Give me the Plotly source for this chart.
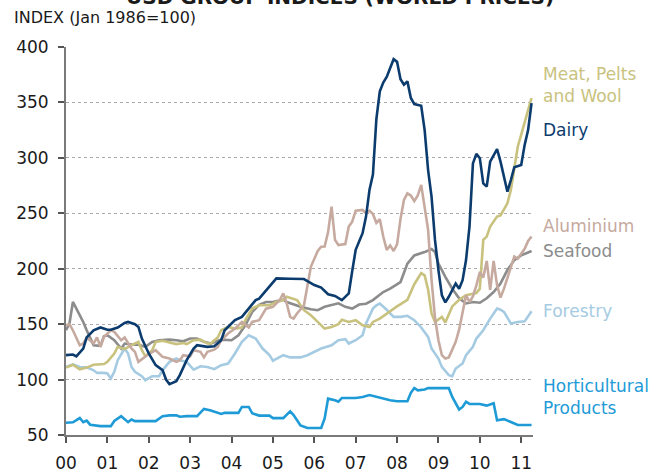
import plotly.graph_objects as go

# ---- data (months since Jan 2000, index values, Jan 1986 = 100) ----
year_ticks = list(range(2000, 2012))
year_labels = ["00", "01", "02", "03", "04", "05", "06", "07", "08", "09", "10", "11"]

hort_m = [0,2,4,5,6,7,10,13,14,16,18,19,20,26,28,30,32,33,35,38,40,42,45,46,50,51,53,54,56,59,60,63,65,66,68,70,74,75,76,78,79,80,84,86,88,90,92,94,96,99,100,101,102,104,105,111,112,114,115,116,117,120,122,124,125,127,129,131,135]
hort_v = [61,61.5,65.3,61.5,63,59.3,58,58,62.6,67,61.6,64,62.5,62.5,67,67.7,67.7,66.5,67,67,73.5,72,69,70,70,75.3,75.3,69.6,67.5,67.5,65.2,65.2,71.4,68,58.7,56.3,56.3,65,82.8,81.4,80,83.4,83.4,84.3,86,84.3,82.8,81.4,80.5,80.5,88,92.4,90.3,91,92.3,92.3,84.3,73,75.3,80,78,78,76.5,78.6,63.3,64.3,61.7,59,59]

dairy_m = [0,2,3,5,6,8,10,12,13,15,17,18,20,21,22,24,26,28,29,30,32,33,35,37,38,41,43,45,46,49,51,53,55,56,58,61,65,69,72,74,76,78,80,82,83,84,86,87,88,89,90,91,92,93,95,96,97,98,99,100,101,103,104,105,106,107,108,109,110,111,113,114,115,116,117,118,119,120,121,122,123,125,126,128,129,130,132,133,134,135]
dairy_v = [122,122.6,121,128,138,144.5,147,145,145,147,151,152,150,147.5,137,123.5,113,108.5,100,95.8,98.5,104,117.5,128,131,129.5,130,135.5,144.5,153.6,156.5,164,171.7,173,180.7,191.3,191,190.7,185.3,183,177,175.5,171.7,177.7,198,217,232,247,271,285,335,360,368,373,389,386.6,371,366,369,354,348.5,347,325,289,265,226,198.8,176,169.6,174.7,186.7,182,189.7,207.8,238,295,303.6,299.7,277,274,296.6,307.8,296.6,269.5,280,291.6,293.6,311.7,325,349.4]

meat_m = [0,2,4,6,8,11,12,14,15,17,19,21,22,23,25,26,28,30,32,34,35,37,39,41,42,43,44,45,47,49,51,52,54,56,59,61,63,64,66,67,69,71,73,75,77,79,80,82,84,86,88,89,91,93,96,99,101,103,104,105,106,107,109,110,111,112,114,116,119,120,121,122,123,125,126,127,128,129,130,131,132,133,134,135]
meat_v = [110.8,113.4,109.3,110.8,113.4,114,116,123.5,129.5,127.4,131,134,126.5,121,126.5,134,135,133.5,132,133,132,135.5,136,132.5,132.5,135.5,138,144.5,147.5,146,147,153.6,164,167,167,170,171.7,174.7,172.4,171.7,162.6,158,152,146,147.5,150,154,152,153.5,149,147.5,152,155,159.6,166,172,186,196,194,181,159.6,152,156.5,151.5,158,166,172,176,178,182,226,229,238,247,248,253,259,271,289,310,321,333,343,354]

sea_m = [0,1,2,4,5,6,8,10,11,12,14,16,17,19,21,23,25,27,30,32,34,36,38,40,42,44,45,48,50,52,54,56,58,60,63,64,66,68,71,73,75,77,79,81,83,85,87,89,92,94,97,99,101,104,106,107,108,110,112,114,116,118,120,122,124,126,128,130,132,135]
sea_v = [144.5,150.6,170,158,152,144.5,131,130.5,139,140,135.5,128,132.5,131.5,131.5,129.5,134,135.5,136,135.5,134.5,137,137,134,132.5,135,136,135.5,140,149,161,167.5,170,170,172,170,167.7,165.6,163.5,162.6,165.6,167.5,168.8,165.6,164,167.7,168.4,171.7,179,182,188,204.6,212,215,217.7,215,204.6,192.7,182,173.3,168.7,170,169.3,173.3,179,186.7,198.8,207.8,212,216]

alu_m = [0,1,2,4,5,6,8,9,10,11,13,14,16,17,19,20,21,23,24,26,28,30,32,33,34,36,37,39,40,41,43,44,45,47,49,51,53,54,56,58,60,62,63,64,65,66,67,69,70,71,73,74,75,76,77,78,79,81,82,83,84,86,87,88,89,90,91,92,93,94,95,96,97,98,99,100,101,102,103,104,105,106,107,108,109,110,111,112,113,114,115,116,117,118,119,120,121,122,123,124,125,126,127,128,129,130,131,132,133,134,135]
alu_v = [149,150,144.5,131,132.5,138,132.5,138,129.5,138.5,144.5,143,135.5,138,128,125,116,120.5,123,126.5,120.5,119,116,117.5,122,121,126.5,125,120,125,127,129.5,135.5,141.6,146,152,147,152,153.6,164,165.6,171.7,177.7,168.7,156.6,155,159.6,167,183.7,201.7,216,219.8,220,233,256,226,221.4,222.3,238,242.4,252.4,253,250,252.4,249.4,241.4,244.6,229,217,221,216,222,245,262,268,266,261,266,275.6,253,235,190,156,135.5,122,119,120,127,134,145,160,176,170,175,185,197,192,207,181,207,185,174,182,192,203,211,209,213,218,225,229]

forest_m = [0,2,4,6,8,9,11,12,13,14,15,17,18,19,20,22,23,25,27,28,30,32,33,35,37,39,41,43,45,47,49,51,53,55,57,59,60,62,63,65,68,70,72,74,77,79,81,82,84,86,87,89,90,91,93,95,97,99,101,103,105,106,108,109,111,112,113,115,116,118,119,121,123,125,126,127,129,131,133,134,135]
forest_v = [111.4,113.8,111.4,111,108.4,106,106,105.5,101,107,117.5,128,123.5,111.4,107,103,99.4,103,103,108.4,116,119,117.5,116,109,112,111.4,109.4,113,114.5,123.5,134,140,137,128,122,117,120,122,120,120,122,125,128,131,135.5,136.5,132.5,135.5,140,150.6,164,167,168.5,163,156.6,156.6,157.5,153.6,147,138.5,128,119,111.4,104,103,110,114.5,122,129.5,137,144.5,155,164,163,161,150.6,152,152.5,156.6,161.7]

series = [
    ("Horticultural<br>Products", hort_m, hort_v, "#1E9BD7", 84),
    ("Forestry", forest_m, forest_v, "#A5CBE2", 161.8),
    ("Seafood", sea_m, sea_v, "#8C8C8C", 216),
    ("Meat, Pelts<br>and Wool", meat_m, meat_v, "#C9C27E", 365.4),
    ("Aluminium", alu_m, alu_v, "#C6AA9F", 238.5),
    ("Dairy", dairy_m, dairy_v, "#0C3C6E", 325.3),
]

FONT = "DejaVu Sans"

fig = go.Figure()
for name, m, v, color, _ in series:
    fig.add_trace(go.Scatter(
        x=[2000 + k / 12 for k in m], y=v, mode="lines",
        line=dict(color=color, width=2.6), name=name.replace("<br>", " "),
        hoverinfo="skip", showlegend=False,
    ))

annotations = []
for name, m, v, color, ylab in series:
    annotations.append(dict(
        text=name, x=1.017, xref="paper", y=ylab, yref="y",
        xanchor="left", yanchor="middle", align="left", showarrow=False,
        font=dict(family=FONT, size=17, color=color),
    ))

annotations.append(dict(
    text="INDEX (Jan 1986=100)", x=-0.1156, xref="paper", y=1.0757, yref="paper",
    xanchor="left", yanchor="middle", showarrow=False,
    font=dict(family=FONT, size=16, color="#1a1a1a"),
))
annotations.append(dict(
    text="<b>USD GROUP INDICES (WORLD PRICES)</b>", x=0.587, xref="paper", y=1.13, yref="paper",
    xanchor="center", yanchor="middle", showarrow=False,
    font=dict(family=FONT, size=20, color="#1a1a1a"),
))

fig.update_layout(
    width=658, height=472,
    margin=dict(l=66, r=125, t=47, b=37),
    paper_bgcolor="white", plot_bgcolor="white",
    font=dict(family=FONT, size=17, color="#1a1a1a"),
    annotations=annotations,
    xaxis=dict(
        range=[2000, 2011.285], tickmode="array", tickvals=year_ticks, ticktext=year_labels,
        showgrid=False, zeroline=False, showline=True, linecolor="#7a7a7a", linewidth=2,
        ticks="outside", ticklen=6, tickwidth=1.5, tickcolor="#555555",
        ticklabelstandoff=6, automargin=False,
    ),
    yaxis=dict(
        range=[50, 400], tickvals=[50, 100, 150, 200, 250, 300, 350, 400],
        showgrid=True, gridcolor="#AAAAAA", gridwidth=1, griddash="dot",
        zeroline=False, showline=True, linecolor="#7a7a7a", linewidth=2,
        ticks="outside", ticklen=6, tickwidth=1.5, tickcolor="#555555",
        ticklabelstandoff=6, automargin=False,
    ),
)

fig.write_html(
    "out.html",
    config={"displayModeBar": False},
    post_script="document.body.style.margin='0';document.body.style.padding='0';",
)
